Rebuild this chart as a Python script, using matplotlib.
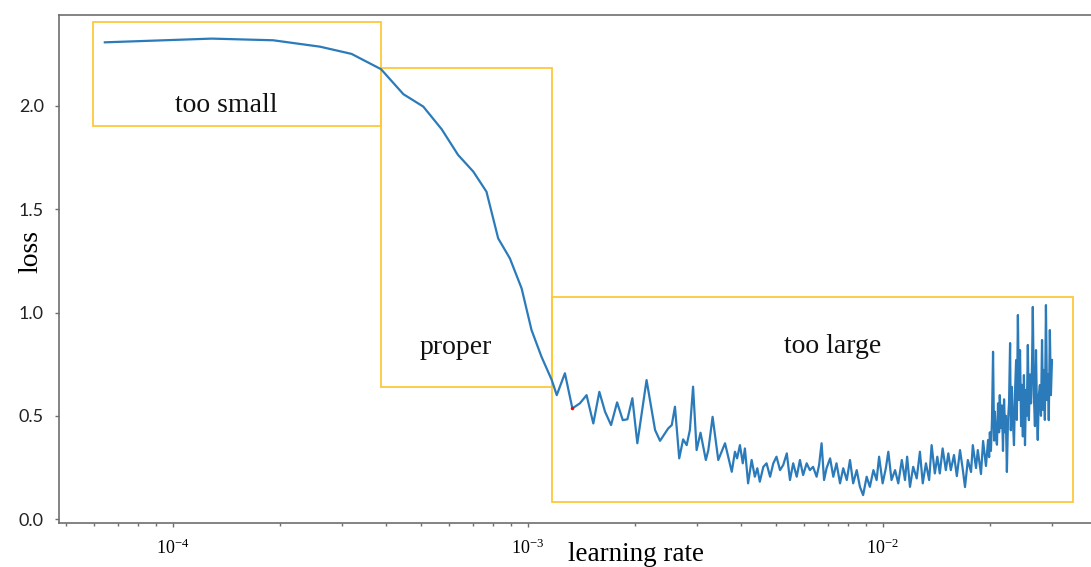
import matplotlib.pyplot as plt
import numpy as np
from matplotlib.patches import Rectangle

# learning-rate sweep: log10(lr) and the recorded loss
log10_lr = [
    -4.191, -3.890, -3.717, -3.585, -3.496, -3.413, -3.350, -3.294, -3.242,
    -3.196, -3.153, -3.116, -3.083, -3.050, -3.017, -2.989, -2.961, -2.932,
    -2.918, -2.895, -2.874, -2.853, -2.834, -2.815, -2.798, -2.782, -2.765,
    -2.748, -2.732, -2.719, -2.705, -2.691, -2.665, -2.641, -2.627, -2.604,
    -2.594, -2.585, -2.573, -2.562, -2.552, -2.543, -2.534, -2.524, -2.513,
    -2.498, -2.491, -2.479, -2.463, -2.444, -2.425, -2.416, -2.410, -2.402,
    -2.394, -2.388, -2.379, -2.369, -2.360, -2.353, -2.346, -2.336, -2.327,
    -2.317, -2.308, -2.299, -2.289, -2.280, -2.270, -2.261, -2.252, -2.242,
    -2.233, -2.224, -2.214, -2.205, -2.196, -2.186, -2.179, -2.172, -2.165,
    -2.158, -2.148, -2.139, -2.130, -2.120, -2.111, -2.101, -2.092, -2.083,
    -2.073, -2.064, -2.055, -2.045, -2.036, -2.026, -2.017, -2.010, -2.000,
    -1.991, -1.984, -1.975, -1.965, -1.956, -1.946, -1.937, -1.931, -1.923,
    -1.914, -1.904, -1.895, -1.887, -1.878, -1.869, -1.862, -1.853, -1.846,
    -1.839, -1.831, -1.822, -1.815,
    -1.808, -1.799, -1.791, -1.782, -1.774, -1.768, -1.760, -1.751, -1.746,
    -1.737, -1.732, -1.723, -1.717, -1.709,
    -1.703, -1.700, -1.698, -1.695, -1.692, -1.689, -1.686, -1.684, -1.681,
    -1.678, -1.675, -1.672, -1.670, -1.667, -1.664, -1.661, -1.658, -1.655,
    -1.653, -1.650, -1.647, -1.644, -1.641, -1.639, -1.636, -1.633, -1.630,
    -1.627, -1.624, -1.622, -1.619, -1.616, -1.613, -1.610, -1.608, -1.605,
    -1.602, -1.599, -1.596, -1.594, -1.591, -1.588, -1.585, -1.582, -1.579,
    -1.577, -1.574, -1.571, -1.568, -1.565, -1.563, -1.560, -1.557, -1.554,
    -1.551, -1.548, -1.546, -1.543, -1.540, -1.537, -1.534, -1.532, -1.529,
    -1.526, -1.523,
]
loss = [
    2.308, 2.326, 2.318, 2.287, 2.252, 2.178, 2.057, 1.997, 1.887,
    1.763, 1.682, 1.585, 1.359, 1.262, 1.117, 0.915, 0.786, 0.673,
    0.600, 0.706, 0.536, 0.560, 0.600, 0.463, 0.616, 0.520, 0.455,
    0.565, 0.479, 0.483, 0.585, 0.367, 0.673, 0.431, 0.379, 0.439,
    0.455, 0.544, 0.294, 0.386, 0.358, 0.431, 0.641, 0.334, 0.418,
    0.286, 0.334, 0.495, 0.286, 0.367, 0.229, 0.326, 0.294, 0.358,
    0.270, 0.342, 0.173, 0.286, 0.205, 0.246, 0.181, 0.253, 0.270,
    0.205, 0.270, 0.302, 0.237, 0.262, 0.318, 0.189, 0.270, 0.205,
    0.286, 0.213, 0.270, 0.237, 0.253, 0.205, 0.262, 0.367, 0.189,
    0.246, 0.294, 0.205, 0.270, 0.173, 0.246, 0.189, 0.286, 0.173,
    0.237, 0.156, 0.116, 0.205, 0.156, 0.237, 0.189, 0.302, 0.173,
    0.246, 0.326, 0.189, 0.237, 0.173, 0.286, 0.189, 0.302, 0.156,
    0.253, 0.197, 0.326, 0.173, 0.270, 0.189, 0.358, 0.221, 0.302,
    0.221, 0.342, 0.237, 0.318,
    0.237, 0.310, 0.208, 0.334, 0.237, 0.155, 0.286, 0.228, 0.358,
    0.247, 0.334, 0.218, 0.378, 0.257,
    0.383, 0.300, 0.420, 0.330, 0.480, 0.810, 0.380, 0.520, 0.400,
    0.360, 0.560, 0.420, 0.600, 0.440, 0.550, 0.330, 0.580, 0.420,
    0.500, 0.228, 0.470, 0.560, 0.852, 0.430, 0.640, 0.470, 0.358,
    0.620, 0.770, 0.480, 0.988, 0.576, 0.818, 0.450, 0.650, 0.400,
    0.697, 0.358, 0.625, 0.500, 0.843, 0.479, 0.700, 0.560, 0.770,
    1.027, 0.600, 0.450, 0.818, 0.479, 0.383, 0.600, 0.649, 0.500,
    0.867, 0.528, 0.722, 0.480, 1.036, 0.576, 0.700, 0.479, 0.915,
    0.600, 0.770,
]

# small red marker on the first dip after the drop
dip_log10_lr = [-2.874]
dip_loss = [0.536]

# learning-rate regions (lr range, loss range)
region_names = ['too small', 'proper', 'too large']
region_lr = [(5.96e-5, 3.86e-4), (3.86e-4, 1.169e-3), (1.169e-3, 3.43e-2)]
region_loss = [(1.902, 2.406), (0.641, 2.186), (0.081, 1.073)]

tick_lr = [1e-4, 1e-3, 1e-2]
tick_labels = [r'$\mathregular{10^{-4}}$', r'$\mathregular{10^{-3}}$',
               r'$\mathregular{10^{-2}}$']

serif = 'Liberation Serif'
gray = '#6e6e6e'

fig = plt.figure(figsize=(10.91, 5.67), dpi=100)
ax = fig.add_axes([0.0541, 0.0776, 0.9459, 0.8951])

lr = 10.0 ** np.array(log10_lr)
ax.plot(lr, loss, color='#2b7bba', linewidth=1.6, zorder=3)
ax.plot(10.0 ** np.array(dip_log10_lr), dip_loss, 'o', color='red',
        markersize=1.5, zorder=4)

# rectangles around each region
for (x0, x1), (y0, y1) in zip(region_lr, region_loss):
    ax.add_patch(Rectangle((x0, y0), x1 - x0, y1 - y0, fill=False,
                           edgecolor='#ffc83a', linewidth=1.3, zorder=2))

# region captions
for name, (x, y) in zip(region_names,
                        [(1.413e-4, 1.972), (6.28e-4, 0.799), (7.24e-3, 0.805)]):
    ax.text(x, y, name, family=serif, fontsize=20, ha='center',
            va='baseline', color='#111111')

ax.set_xscale('log')
ax.set_xlim(4.786e-5, 3.863e-2)
ax.set_ylim(-0.019, 2.438)
ax.set_xticks(tick_lr)
ax.set_xticklabels(tick_labels, family=serif, fontsize=13)
ax.set_yticks([0.0, 0.5, 1.0, 1.5, 2.0])
ax.set_yticklabels(['0.0', '0.5', '1.0', '1.5', '2.0'], family='Lato',
                   fontsize=13, color='#222222')

ax.tick_params(axis='both', which='major', length=3, width=1, color=gray)
ax.tick_params(axis='x', which='minor', length=2, width=1, color=gray)
ax.tick_params(axis='x', which='major', pad=8)
ax.tick_params(axis='y', which='major', pad=8)

for side in ['left', 'bottom', 'top']:
    ax.spines[side].set_color(gray)
    ax.spines[side].set_linewidth(1.2)
ax.spines['right'].set_visible(False)

ax.set_xlabel('learning rate', family=serif, fontsize=19.5, va='baseline')
ax.xaxis.set_label_coords(0.559, -0.0749)
ax.set_ylabel('loss', family=serif, fontsize=20, va='baseline')
ax.yaxis.set_label_coords(-0.0213, 0.535)

fig.savefig('out.png', dpi=100)
